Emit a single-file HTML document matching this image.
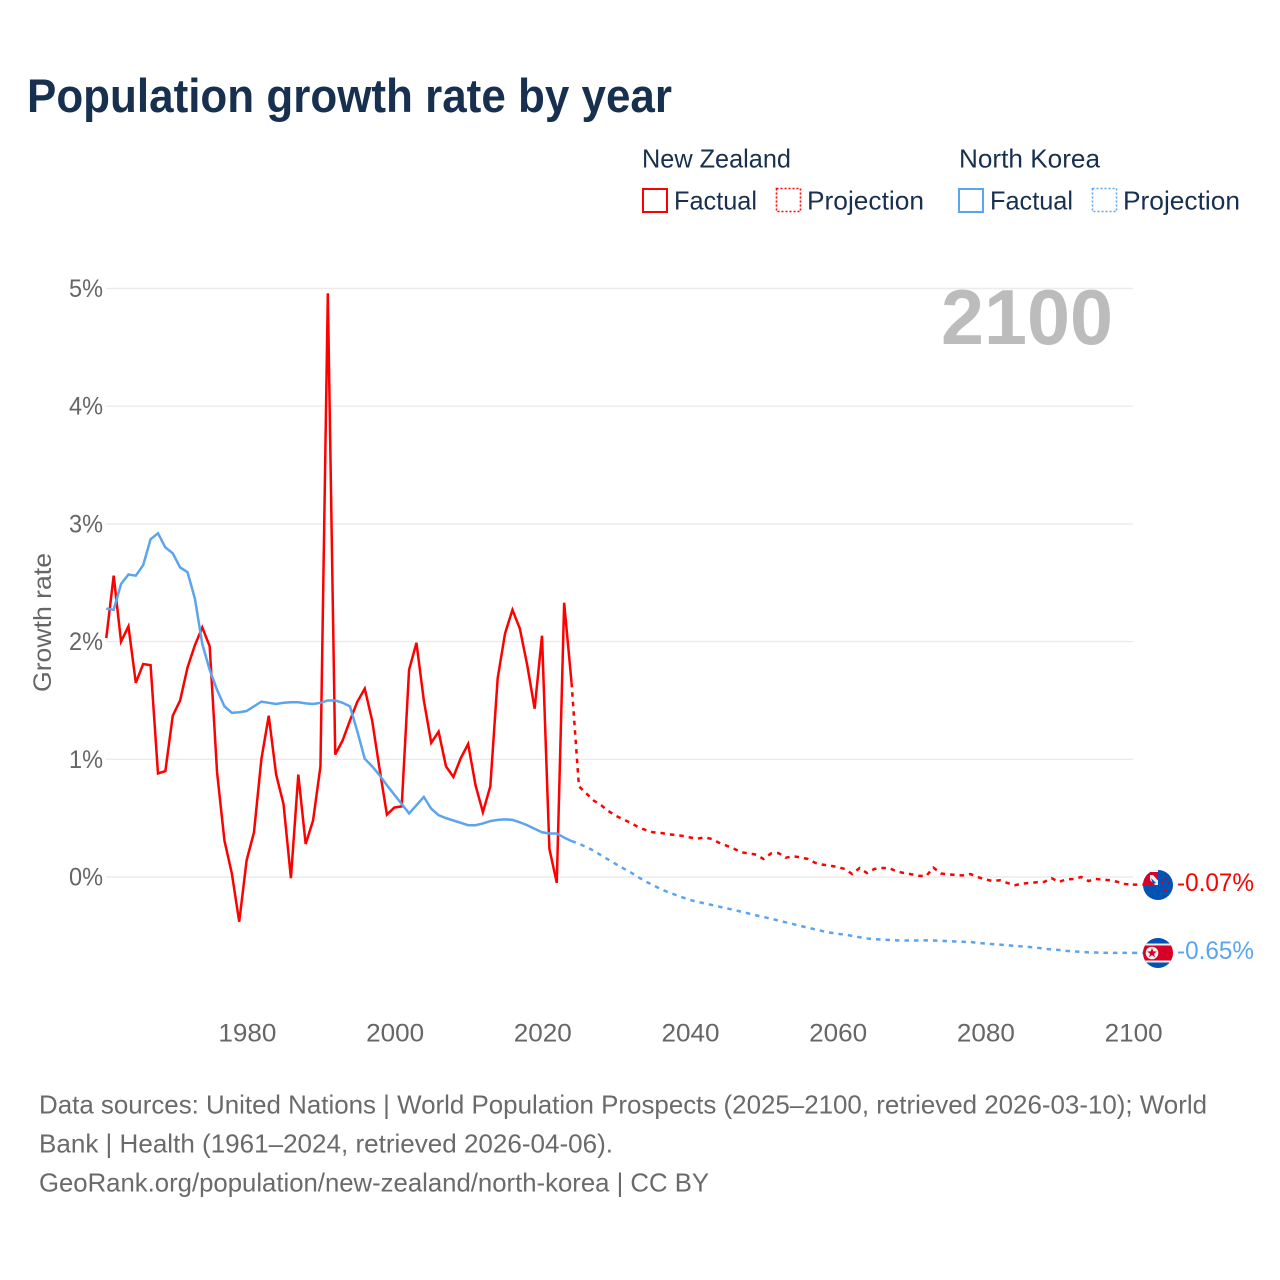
<!DOCTYPE html>
<html lang="en">
<head>
<meta charset="utf-8">
<title>Population growth rate by year</title>
<style>
html,body{margin:0;padding:0;background:#fff;width:1280px;height:1280px;overflow:hidden}
svg{display:block}
text{font-family:"Liberation Sans",sans-serif}
</style>
</head>
<body>
<svg id="chart" xmlns="http://www.w3.org/2000/svg" width="1280" height="1280" viewBox="0 0 1280 1280">
  <rect width="1280" height="1280" fill="#ffffff"/>
  <text x="27" y="112" font-size="47" font-weight="700" fill="#18304f" textLength="645" lengthAdjust="spacingAndGlyphs">Population growth rate by year</text>

  <g font-size="26" fill="#18304f">
    <text x="642" y="167.500" textLength="149" lengthAdjust="spacingAndGlyphs">New Zealand</text>
    <text x="959" y="167.500" textLength="141" lengthAdjust="spacingAndGlyphs">North Korea</text>
    <rect x="643" y="189" width="24" height="23" fill="none" stroke="#ff0000" stroke-width="2"/>
    <text x="674" y="209.500" textLength="83" lengthAdjust="spacingAndGlyphs">Factual</text>
    <rect x="776.500" y="188.500" width="24" height="23" fill="none" stroke="#ff0000" stroke-width="1.600" stroke-dasharray="2 2"/>
    <text x="807" y="209.500" textLength="117" lengthAdjust="spacingAndGlyphs">Projection</text>
    <rect x="959" y="189" width="24" height="23" fill="none" stroke="#5ba4ee" stroke-width="2"/>
    <text x="990" y="209.500" textLength="83" lengthAdjust="spacingAndGlyphs">Factual</text>
    <rect x="1092.500" y="188.500" width="24" height="23" fill="none" stroke="#5ba4ee" stroke-width="1.600" stroke-dasharray="2 2"/>
    <text x="1123" y="209.500" textLength="117" lengthAdjust="spacingAndGlyphs">Projection</text>
  </g>

  <g id="grid"></g>
  <g id="yticks" font-size="25" fill="#666666"></g>
  <g id="xticks" font-size="25" fill="#666666"></g>

  <text transform="translate(51 692) rotate(-90)" font-size="25" fill="#666666" textLength="139" lengthAdjust="spacingAndGlyphs">Growth rate</text>
  <text x="941" y="344" font-size="78" font-weight="700" fill="#bcbcbc" textLength="172" lengthAdjust="spacingAndGlyphs">2100</text>

  <g id="series"></g>

  <defs>
    <clipPath id="flag-clip-nz"><circle cx="1158" cy="885" r="15"/></clipPath>
    <clipPath id="flag-clip-nk"><circle cx="1158" cy="953" r="15"/></clipPath>
  </defs>

  <g clip-path="url(#flag-clip-nz)">
    <rect x="1143" y="870" width="30" height="30" fill="#0052b4"/>
    <rect x="1143" y="870" width="15" height="2" fill="#ffffff"/>
    <rect x="1143" y="872" width="15" height="13" fill="#d80027"/>
    <path d="M1150 875 L1153 875 L1158 880.500 L1158 885 L1155 885 L1150 880 Z" fill="#f0f0f0"/>
    <path d="M1151 878 L1156 883 L1153 884 Z" fill="#0052b4"/>
    <circle cx="1162" cy="883" r="1.300" fill="#d80027"/>
    <circle cx="1165.500" cy="878.500" r="1" fill="#d80027"/>
    <circle cx="1169" cy="882" r="1" fill="#d80027"/>
    <circle cx="1165.500" cy="890.500" r="1.600" fill="#d80027"/>
  </g>
  <g clip-path="url(#flag-clip-nk)">
    <rect x="1143" y="938" width="30" height="30" fill="#0052b4"/>
    <rect x="1143" y="943.500" width="30" height="19" fill="#f0f0f0"/>
    <rect x="1143" y="945.500" width="30" height="15" fill="#d80027"/>
    <circle cx="1152" cy="953" r="6.300" fill="#f0f0f0"/>
    <path d="M1152 948 L1153.300 951.400 L1156.800 951.500 L1154 953.700 L1155 957.200 L1152 955.100 L1149 957.200 L1150 953.700 L1147.200 951.500 L1150.700 951.400 Z" fill="#d80027"/>
  </g>

  <text x="1177" y="891" font-size="25" fill="#ff0000" textLength="77" lengthAdjust="spacingAndGlyphs">-0.07%</text>
  <text x="1177" y="959" font-size="25" fill="#5ba4ee" textLength="77" lengthAdjust="spacingAndGlyphs">-0.65%</text>

  <g font-size="26" fill="#6a6a6a">
    <text x="39" y="1113.500" textLength="1168" lengthAdjust="spacingAndGlyphs">Data sources: United Nations | World Population Prospects (2025–2100, retrieved 2026-03-10); World</text>
    <text x="39" y="1152.500" textLength="574" lengthAdjust="spacingAndGlyphs">Bank | Health (1961–2024, retrieved 2026-04-06).</text>
    <text x="39" y="1191.500" textLength="670" lengthAdjust="spacingAndGlyphs">GeoRank.org/population/new-zealand/north-korea | CC BY</text>
  </g>
</svg>

<script>
const FACTUAL_START_YEAR = 1961;
const PROJECTION_START_YEAR = 2024;
const yTickValues = [0, 1, 2, 3, 4, 5];
const yTickLabels = ["0%", "1%", "2%", "3%", "4%", "5%"];
const xTickValues = [1980, 2000, 2020, 2040, 2060, 2080, 2100];
const xTickLabels = ["1980", "2000", "2020", "2040", "2060", "2080", "2100"];

const nzFactual = [
  2.03, 2.56, 2.00, 2.13, 1.65, 1.81, 1.80, 0.88, 0.90, 1.37,
  1.50, 1.78, 1.97, 2.12, 1.96, 0.89, 0.31, 0.03, -0.38, 0.14,
  0.38, 1.00, 1.37, 0.87, 0.62, -0.01, 0.87, 0.28, 0.48, 0.94,
  4.96, 1.04, 1.16, 1.33, 1.49, 1.60, 1.33, 0.92, 0.53, 0.59,
  0.60, 1.76, 1.99, 1.50, 1.14, 1.235, 0.94, 0.85, 1.01, 1.13,
  0.78, 0.55, 0.77, 1.69, 2.07, 2.27, 2.11, 1.80, 1.43, 2.05,
  0.24, -0.05, 2.33, 1.65
];
const nzProjection = [
  1.65, 0.77, 0.71, 0.65, 0.61, 0.56, 0.52, 0.49, 0.46, 0.425,
  0.40, 0.38, 0.375, 0.365, 0.357, 0.35, 0.337, 0.325, 0.337, 0.323,
  0.29, 0.266, 0.24, 0.21, 0.20, 0.19, 0.153, 0.20, 0.204, 0.164,
  0.176, 0.167, 0.153, 0.12, 0.105, 0.096, 0.085, 0.068, 0.025, 0.076,
  0.034, 0.068, 0.076, 0.076, 0.048, 0.034, 0.023, 0.011, 0.006, 0.08,
  0.03, 0.023, 0.017, 0.014, 0.025, 0.0, -0.02, -0.034, -0.028, -0.05,
  -0.07, -0.057, -0.05, -0.045, -0.042, -0.01, -0.042, -0.02, -0.017, 0.0,
  -0.034, -0.017, -0.023, -0.028, -0.042, -0.06, -0.065
];
const nkFactual = [
  2.28, 2.27, 2.49, 2.57, 2.56, 2.65, 2.87, 2.92, 2.80, 2.75,
  2.63, 2.59, 2.365, 1.98, 1.76, 1.59, 1.45, 1.395, 1.40, 1.41,
  1.45, 1.49, 1.48, 1.47, 1.48, 1.485, 1.485, 1.475, 1.47, 1.48,
  1.50, 1.50, 1.48, 1.45, 1.235, 1.005, 0.94, 0.865, 0.78, 0.70,
  0.62, 0.54, 0.61, 0.68, 0.58, 0.525, 0.50, 0.48, 0.46, 0.44,
  0.44, 0.455, 0.475, 0.485, 0.49, 0.485, 0.465, 0.44, 0.41, 0.38,
  0.37, 0.37, 0.335, 0.305
];
const nkProjection = [
  0.305, 0.283, 0.255, 0.224, 0.184, 0.147, 0.11, 0.074, 0.04, 0.0,
  -0.037, -0.068, -0.10, -0.127, -0.15, -0.173, -0.195, -0.21, -0.224, -0.238,
  -0.252, -0.266, -0.28, -0.295, -0.31, -0.326, -0.34, -0.354, -0.37, -0.385,
  -0.40, -0.416, -0.43, -0.445, -0.46, -0.473, -0.482, -0.49, -0.50, -0.512,
  -0.522, -0.528, -0.532, -0.535, -0.538, -0.54, -0.54, -0.54, -0.538, -0.54,
  -0.542, -0.545, -0.548, -0.55, -0.552, -0.56, -0.565, -0.57, -0.575, -0.58,
  -0.585, -0.59, -0.595, -0.60, -0.61, -0.615, -0.62, -0.628, -0.632, -0.636,
  -0.64, -0.642, -0.644, -0.645, -0.645, -0.645, -0.645
];

const SVG_NS = "http://www.w3.org/2000/svg";
const RED = "#ff0000";
const BLUE = "#5ba4ee";

function xScale(year) { return 246.6 + (year - 1980) * 7.385; }
function yScale(value) { return 877 - value * 117.7; }

function pathFrom(values, startYear) {
  return values.map(function (v, i) {
    return (i ? "L" : "M") + xScale(startYear + i).toFixed(2) + " " + yScale(v).toFixed(2);
  }).join(" ");
}

const gridGroup = document.getElementById("grid");
const yTickGroup = document.getElementById("yticks");
const xTickGroup = document.getElementById("xticks");
const seriesGroup = document.getElementById("series");

yTickValues.forEach(function (value, i) {
  const line = document.createElementNS(SVG_NS, "line");
  
  
  line.setAttribute("x1", 106);
  line.setAttribute("x2", 1133);
  line.setAttribute("y1", yScale(value));
  line.setAttribute("y2", yScale(value));
  line.setAttribute("stroke", "#ebebeb");
  line.setAttribute("stroke-width", "1.4");
  gridGroup.appendChild(line);

  const label = document.createElementNS(SVG_NS, "text");
  
  
  label.setAttribute("x", 103);
  label.setAttribute("y", yScale(value) + 8.5);
  label.setAttribute("text-anchor", "end");
  label.setAttribute("textLength", "34");
  label.setAttribute("lengthAdjust", "spacingAndGlyphs");
  label.textContent = yTickLabels[i];
  yTickGroup.appendChild(label);
});

xTickValues.forEach(function (year, i) {
  const label = document.createElementNS(SVG_NS, "text");
  
  
  label.setAttribute("x", xScale(year) + 0.8);
  label.setAttribute("y", 1041.5);
  label.setAttribute("text-anchor", "middle");
  label.setAttribute("textLength", "58");
  label.setAttribute("lengthAdjust", "spacingAndGlyphs");
  label.textContent = xTickLabels[i];
  xTickGroup.appendChild(label);
});

function addLine(name, values, startYear, color, dashed) {
  const path = document.createElementNS(SVG_NS, "path");
  
  
  path.setAttribute("d", pathFrom(values, startYear));
  path.setAttribute("fill", "none");
  path.setAttribute("stroke", color);
  path.setAttribute("stroke-width", "2.5");
  path.setAttribute("stroke-linejoin", "miter");
  if (dashed) { path.setAttribute("stroke-dasharray", "4.5 5"); }
  seriesGroup.appendChild(path);
}

function addConnector(name, value, color) {
  const line = document.createElementNS(SVG_NS, "line");
  
  
  line.setAttribute("x1", xScale(2100));
  line.setAttribute("x2", 1143);
  line.setAttribute("y1", yScale(value));
  line.setAttribute("y2", yScale(value));
  line.setAttribute("stroke", color);
  line.setAttribute("stroke-width", "2.5");
  line.setAttribute("stroke-dasharray", "4.5 5");
  seriesGroup.appendChild(line);
}

addLine("new-zealand-projection-line", nzProjection, PROJECTION_START_YEAR, RED, true);
addLine("north-korea-projection-line", nkProjection, PROJECTION_START_YEAR, BLUE, true);
addLine("new-zealand-factual-line", nzFactual, FACTUAL_START_YEAR, RED, false);
addLine("north-korea-factual-line", nkFactual, FACTUAL_START_YEAR, BLUE, false);
addConnector("new-zealand-flag-connector", nzProjection[nzProjection.length - 1], RED);
addConnector("north-korea-flag-connector", nkProjection[nkProjection.length - 1], BLUE);
</script>
</body>
</html>
